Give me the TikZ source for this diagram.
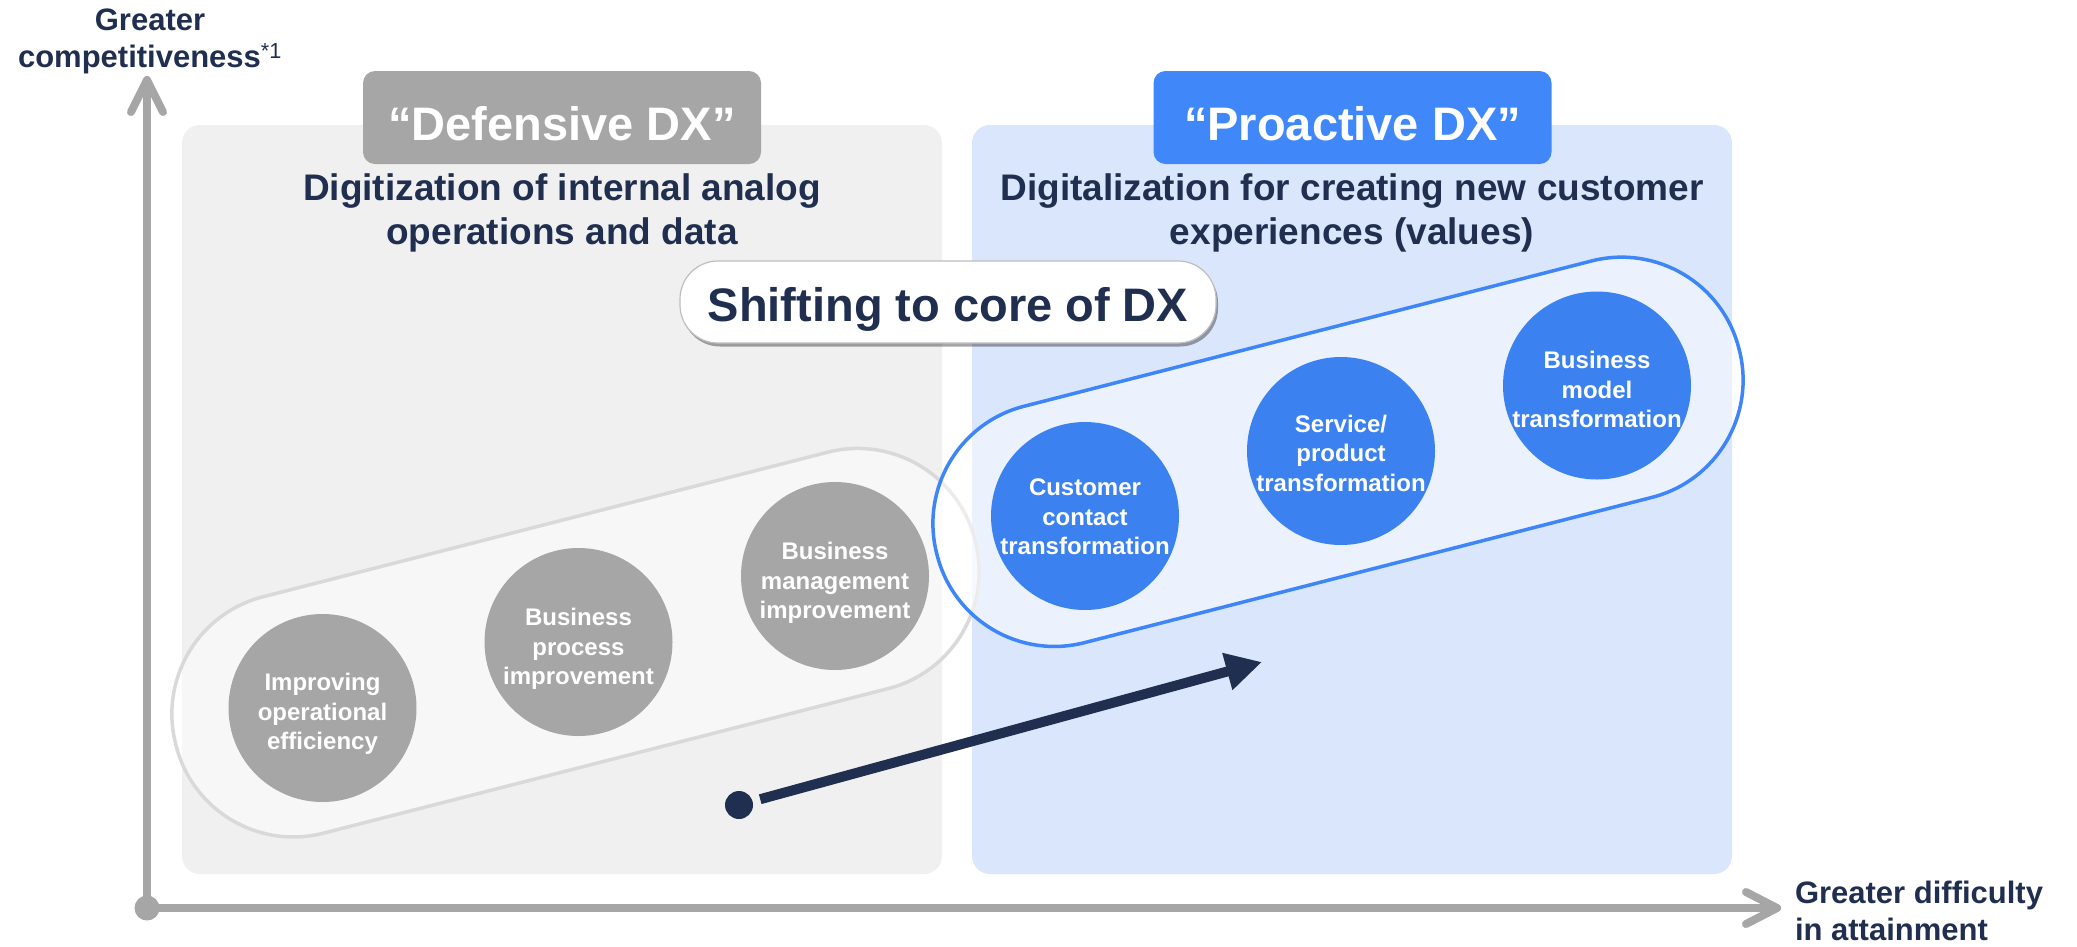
\documentclass[tikz,border=0pt]{standalone}
\usepackage{fontspec}
\setmainfont{Liberation Sans}
\usetikzlibrary{arrows.meta,shadows}

\definecolor{navy}{RGB}{32,47,79}
\definecolor{axisgray}{RGB}{166,166,166}
\definecolor{panelgray}{RGB}{240,240,240}
\definecolor{panelblue}{RGB}{218,230,252}
\definecolor{circgray}{RGB}{166,166,166}
\definecolor{circblue}{RGB}{59,130,240}
\definecolor{titleblue}{RGB}{64,136,250}
\definecolor{capsgray}{RGB}{217,217,217}
\definecolor{capsblue}{RGB}{62,134,248}
\definecolor{pilledge}{RGB}{190,190,190}

\begin{document}
\begin{tikzpicture}[x=1pt, y=-1pt,
  every node/.style={inner sep=0pt, outer sep=0pt},
  panel/.style={rectangle, rounded corners=18pt, minimum width=760pt, minimum height=749pt},
  titlebox/.style={rectangle, rounded corners=12pt, minimum width=398pt, minimum height=93pt,
    text=white, font=\bfseries\fontsize{47}{56}\selectfont, text height=45pt, text depth=0pt},
  subtitle/.style={text=navy, align=center, font=\bfseries\fontsize{37}{44}\selectfont},
  capsule/.style={rectangle, rotate=14.36, minimum height=244pt, rounded corners=121pt,
    line width=3.5pt, fill=white, fill opacity=0.5},
  bubble/.style={circle, minimum size=188pt},
  bubbletext/.style={text=white, align=center, font=\bfseries\fontsize{24}{29.5}\selectfont},
  gbubble/.style={bubble, fill=circgray},
  bbubble/.style={bubble, fill=circblue},
  pill/.style={rectangle, rounded corners=38pt, minimum width=536pt, minimum height=82pt,
    fill=white, draw=pilledge, line width=1.2pt, text=navy,
    font=\bfseries\fontsize{47}{56}\selectfont, text height=38pt, text depth=0pt,
    drop shadow={shadow xshift=2pt, shadow yshift=-3.5pt, fill=black, opacity=0.35}},
  axislabel/.style={text=navy, font=\bfseries\fontsize{31}{37}\selectfont},
  axisline/.style={draw=axisgray, line width=8pt, line cap=round, line join=round}
]
\useasboundingbox (0,0) rectangle (2077,946);

% background panels
\node[panel, fill=panelgray] (leftpanel) at (562,499.5) {};
\node[panel, fill=panelblue] (rightpanel) at (1352,499.5) {};

% headings
\node[titlebox, fill=circgray] (deftitle) at (562,117.5) {“Defensive DX”};
\node[titlebox, fill=titleblue] (protitle) at (1352.5,117.5) {“Proactive DX”};
\node[subtitle] (defsub) at (562,212.5) {Digitization of internal analog\\operations and data};
\node[subtitle] (prosub) at (1352,212.5) {Digitalization for creating new customer\\experiences (values)};

% capsules grouping the stages
\node[capsule, draw=capsgray, minimum width=825pt] (graycaps) at (575.5,642.7) {};
\node[capsule, draw=capsblue, minimum width=828pt] (bluecaps) at (1338,451.8) {};

% stages
\node[gbubble, label={[bubbletext, yshift=-6pt]center:{Improving\\operational\\efficiency}}] (ope) at (322.5,708) {};
\node[gbubble, label={[bubbletext, yshift=-7pt]center:{Business\\process\\improvement}}] (proc) at (578.5,642) {};
\node[gbubble, label={[bubbletext, yshift=-7pt]center:{Business\\management\\improvement}}] (mgmt) at (835,576) {};
\node[bbubble, label={[bubbletext, yshift=-1pt]center:{Customer\\contact\\transformation}}] (cust) at (1085,516) {};
\node[bbubble, label={[bubbletext, yshift=-2pt]center:{Service/\\product\\transformation}}] (serv) at (1341,451) {};
\node[bbubble, label={[bubbletext, yshift=-4pt]center:{Business\\model\\transformation}}] (model) at (1597,385.5) {};

\node[pill] (shift) at (948,302) {Shifting to core of DX};

% axes
\node[circle, fill=axisgray, minimum size=25pt] (origin) at (147,908) {};
\coordinate (ytip) at (147,80);
\coordinate (xtip) at (1777,908);
\draw[axisline] (origin.center) -- (ytip);
\draw[axisline] (origin.center) -- (xtip);
\draw[axisline] (ytip) ++(-16,32) -- (ytip) -- ++(16,32);
\draw[axisline] (xtip) ++(-31,-16) -- (xtip) -- ++(-31,16);
\node[axislabel, align=center] (ylabel) at (150,41.5) {Greater\\competitiveness\textsuperscript{\mdseries *1}};
\node[axislabel, align=left, anchor=west] (xlabel) at (1795,911) {Greater difficulty\\in attainment};

% shift arrow
\node[circle, fill=navy, minimum size=28pt] (start) at (739,805) {};
\coordinate (goal) at (1262,662);
\draw[navy, line width=10pt, shorten <=8pt, -{Triangle[length=36pt,width=36pt]}] (start) -- (goal);
\end{tikzpicture}
\end{document}
